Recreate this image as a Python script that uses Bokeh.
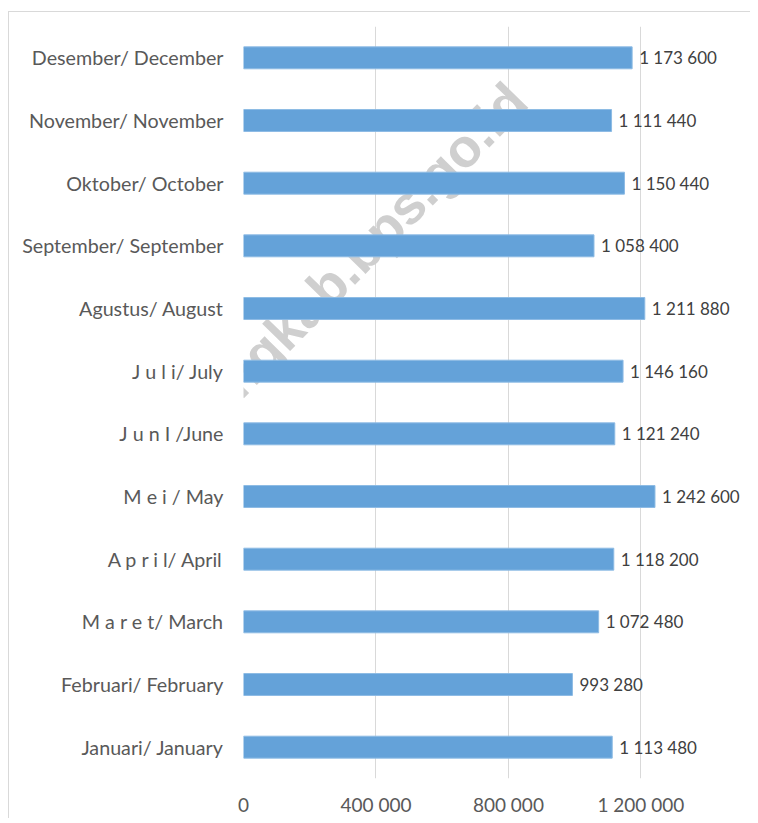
from bokeh.plotting import figure
from bokeh.models import FactorRange, Range1d, FixedTicker, Label, ColumnDataSource
from bokeh.core.properties import value
from bokeh.embed import file_html
from bokeh.resources import INLINE

# Data (bottom to top, as drawn)
categories = [
    "Januari/ January",
    "Februari/ February",
    "M a r e t/ March",
    "A p r i l/ April",
    "M e i / May",
    "J u n I /June",
    "J u l i/ July",
    "Agustus/ August",
    "September/ September",
    "Oktober/ October",
    "November/ November",
    "Desember/ December",
]
values = [1113480, 993280, 1072480, 1118200, 1242600, 1121240,
          1146160, 1211880, 1058400, 1150440, 1111440, 1173600]
x_ticks = [0, 400000, 800000, 1200000]
x_tick_labels = ["0", "400 000", "800 000", "1 200 000"]
watermark = "https://pemalangkab.bps.go.id"

FONT = "Lato"
LABEL_COLOR = "#595959"
BAR_COLOR = "#64A2D9"

source = ColumnDataSource(dict(
    cat=categories,
    val=values,
    txt=[f"{v:,}".replace(",", " ") for v in values],
))

p = figure(
    y_range=FactorRange(factors=categories, range_padding=0),
    x_range=Range1d(0, 1525000),
    frame_width=505, frame_height=752,
    min_border_left=234, min_border_top=14, min_border_right=2, min_border_bottom=38,
    output_backend="svg", toolbar_location=None,
    background_fill_color="white", border_fill_color="white",
)
p.styles = {"border-top": "1px solid #d9d9d9", "border-left": "1px solid #d9d9d9",
            "margin-top": "11px", "margin-left": "8px"}
p.outline_line_color = None

# Watermark in canvas units, under the bars
wm = Label(x=234, y=357, x_units="canvas", y_units="canvas",
           text=watermark, angle=0.796,
           text_align="center", text_baseline="middle",
           text_font="Liberation Sans", text_font_style="bold",
           text_font_size="54px", text_color="#cfcfcf", level="underlay")
p.add_layout(wm)

p.hbar(y="cat", right="val", left=0, height=0.35, source=source,
       fill_color=BAR_COLOR, line_color="#8dbbe4", line_width=1)

p.text(x="val", y="cat", text="txt", source=source, x_offset=7,
       text_align="left", text_baseline="middle",
       text_font=value(FONT), text_font_size="17px", text_color="#404040")

# Grid
p.ygrid.grid_line_color = None
p.xgrid.ticker = FixedTicker(ticks=x_ticks)
p.xgrid.grid_line_color = "#d9d9d9"
p.xgrid.grid_line_width = 1

# Axes
p.xaxis.ticker = FixedTicker(ticks=x_ticks)
p.xaxis.major_label_overrides = {t: l for t, l in zip(x_ticks, x_tick_labels)}
for ax in (p.xaxis, p.yaxis):
    ax.axis_line_color = None
    ax.major_tick_line_color = None
    ax.minor_tick_line_color = None
    ax.major_tick_out = 0
    ax.major_label_text_font = FONT
    ax.major_label_text_color = LABEL_COLOR
p.xaxis.major_label_text_font_size = "19px"
p.yaxis.major_label_text_font_size = "19.7px"
p.xaxis.major_label_standoff = 14
p.yaxis.major_label_standoff = 20

open("out.html", "w").write(file_html(p, INLINE))
